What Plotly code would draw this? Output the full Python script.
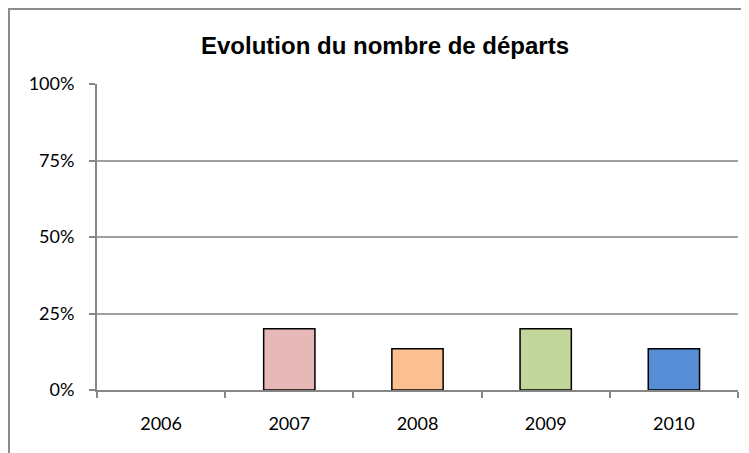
import plotly.graph_objects as go

years = ["2006", "2007", "2008", "2009", "2010"]
departs = [0.0, 0.20, 0.135, 0.20, 0.135]
bar_colors = ["#FFFFFF", "#E6B9B8", "#FAC090", "#C3D69B", "#558ED5"]
y_ticks = [0, 0.25, 0.5, 0.75, 1.0]
y_tick_labels = ["0%", "25%", "50%", "75%", "100%"]
title_text = "Evolution du nombre de départs"

W, H = 749, 453
OFF = 8  # page offset of the figure
L, R, T, B = 97 - OFF, W - (738 - OFF), 84 - OFF, H - (390 - OFF)
pw, ph = W - L - R, H - T - B

def px_x(p):
    return (p - OFF - L) / pw

def px_y(p):
    return (H - B - (p - OFF)) / ph

line_widths = [0 if v == 0 else 1.5 for v in departs]

fig = go.Figure(go.Bar(
    x=years, y=departs,
    marker=dict(color=bar_colors, line=dict(color="#000000", width=line_widths)),
    width=0.4,
))

shapes = [
    dict(type="rect", xref="paper", yref="paper",
         x0=px_x(9), x1=px_x(W + 40), y0=px_y(H + 40), y1=px_y(9),
         fillcolor="#FFFFFF", line=dict(color="#8C8C8C", width=2), layer="below"),
]

fig.update_layout(
    width=W, height=H,
    margin=dict(l=L, r=R, t=T, b=B),
    paper_bgcolor="#F1EBD6",
    plot_bgcolor="rgba(0,0,0,0)",
    showlegend=False,
    shapes=shapes,
    title=dict(text=f"<b>{title_text}</b>", x=(385 - OFF) / W, xref="container", xanchor="center",
               y=1 - 38 / H, yref="container", yanchor="middle",
               font=dict(family="Liberation Sans, Arial, sans-serif", size=24, color="#000000")),
    font=dict(family="Lato, Carlito, Calibri, sans-serif", size=18, color="#000000"),
    xaxis=dict(
        type="category", showgrid=False, showline=True, linecolor="#868686", linewidth=2,
        ticks="outside", ticklen=6, tickcolor="#868686", tickwidth=2, tickson="boundaries",
        ticklabelstandoff=16, tickfont=dict(size=18),
    ),
    yaxis=dict(
        range=[0, 1], tickvals=y_ticks, ticktext=y_tick_labels,
        showgrid=True, gridcolor="#A0A0A0", gridwidth=1.5,
        showline=True, linecolor="#868686", linewidth=2,
        ticks="outside", ticklen=6, tickcolor="#868686", tickwidth=2,
        ticklabelstandoff=11, tickfont=dict(size=18), zeroline=False,
    ),
)

fig.write_html("out.html")
